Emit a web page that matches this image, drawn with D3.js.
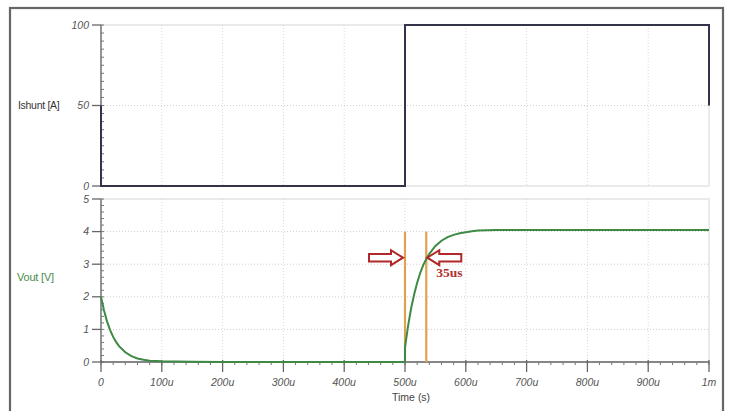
<!DOCTYPE html>
<html><head><meta charset="utf-8">
<script src="https://cdn.jsdelivr.net/npm/d3@7"></script>
<style>body{margin:0;background:#fff}svg{display:block}</style>
</head><body><svg id="c" width="731" height="411"></svg>
<script>
// ---- data ----
const xTicks = [0,100,200,300,400,500,600,700,800,900,1000];
const xTickLabels = ["0","100u","200u","300u","400u","500u","600u","700u","800u","900u","1m"];
const iTicks = [0,50,100];
const iTickLabels = ["0","50","100"];
const vTicks = [0,1,2,3,4,5];
const vTickLabels = ["0","1","2","3","4","5"];
// Ishunt [A] (time in us)
const iTime = [0,0,500,500,1000,1000];
const iVals = [50,0,0,100,100,50];
// Vout [V] (time in us)
const vTime = [0,5,10,15,20,25,30,40,50,60,70,80,90,100,150,200,300,400,500,500,505,510,515,520,525,530,535,540,550,560,570,580,590,600,610,620,650,700,800,900,1000];
const vVals = [2.00,1.58,1.24,0.98,0.77,0.61,0.48,0.30,0.18,0.11,0.07,0.04,0.03,0.02,0.01,0.0,0.0,0.0,0.0,0.45,1.10,1.64,2.07,2.43,2.73,2.97,3.16,3.32,3.56,3.72,3.83,3.90,3.95,3.98,4.01,4.03,4.05,4.05,4.05,4.05,4.05];
// annotation
const markerTimes = [500,535];
const markerTop = 4.0;
const arrowLevel = 3.2;
const annotText = "35us";

// ---- layout ----
const svg = d3.select("#c");
const x = d3.scaleLinear().domain([0,1000]).range([101,709]);
const yI = d3.scaleLinear().domain([0,100]).range([186,25]);
const yV = d3.scaleLinear().domain([0,5]).range([362,199]);

// outer frame
svg.append("rect").attr("x",10).attr("y",8).attr("width",713).attr("height",420)
  .attr("fill","none").attr("stroke","#666").attr("stroke-width",2.2);

function panel(y, ticks, labels, minorStep, gridVals){
  const g = svg.append("g");
  const [y0,y1] = y.range();
  g.append("rect").attr("x",x(0)).attr("y",y1).attr("width",x(1000)-x(0)).attr("height",y0-y1)
    .attr("fill","none").attr("stroke","#e4e4e4").attr("stroke-width",1.5);
  g.selectAll(".vg").data(xTicks.slice(1,-1)).join("line")
    .attr("x1",d=>x(d)).attr("x2",d=>x(d)).attr("y1",y1).attr("y2",y0)
    .attr("stroke","#d8d8d8").attr("stroke-dasharray","1,2").attr("stroke-width",1);
  g.selectAll(".hg").data(gridVals).join("line")
    .attr("x1",x(0)).attr("x2",x(1000)).attr("y1",d=>y(d)).attr("y2",d=>y(d))
    .attr("stroke","#d0d0d0").attr("stroke-dasharray","1,2").attr("stroke-width",1);
  g.append("line").attr("x1",x(0)).attr("x2",x(0)).attr("y1",y0).attr("y2",y1)
    .attr("stroke","#666").attr("stroke-width",1.3);
  const dom = y.domain();
  const minors = d3.range(dom[0], dom[1]+minorStep/2, minorStep);
  g.selectAll(".mt").data(minors).join("line")
    .attr("x1",x(0)).attr("x2",x(0)+3).attr("y1",d=>y(d)).attr("y2",d=>y(d))
    .attr("stroke","#777").attr("stroke-width",1);
  g.selectAll(".Mt").data(ticks).join("line")
    .attr("x1",x(0)-9).attr("x2",x(0)).attr("y1",d=>y(d)).attr("y2",d=>y(d))
    .attr("stroke","#666").attr("stroke-width",1.3);
  g.selectAll(".tl").data(ticks).join("text")
    .attr("x",x(0)-12).attr("y",d=>y(d)+3.5).attr("text-anchor","end")
    .attr("font-family","Liberation Sans, Arial, sans-serif").attr("font-style","italic")
    .attr("font-size",10.5).attr("fill","#555").text((d,i)=>labels[i]);
  return g;
}
panel(yI, iTicks, iTickLabels, 5, [50]);
panel(yV, vTicks, vTickLabels, 0.2, [1,2,3,4]);

// x axis (bottom panel)
const xa = svg.append("g");
xa.append("line").attr("x1",x(0)).attr("x2",x(1000)).attr("y1",yV(0)).attr("y2",yV(0))
  .attr("stroke","#666").attr("stroke-width",1.3);
xa.selectAll(".xm").data(d3.range(0,1001,20)).join("line")
  .attr("x1",d=>x(d)).attr("x2",d=>x(d)).attr("y1",yV(0)).attr("y2",d=>yV(0)+(d%100===50?4:3))
  .attr("stroke","#777").attr("stroke-width",1);
xa.selectAll(".xM").data(xTicks).join("line")
  .attr("x1",d=>x(d)).attr("x2",d=>x(d)).attr("y1",yV(0)-2).attr("y2",yV(0)+10)
  .attr("stroke","#666").attr("stroke-width",1.3);
xa.selectAll(".xl").data(xTicks).join("text")
  .attr("x",d=>x(d)).attr("y",yV(0)+24).attr("text-anchor","middle")
  .attr("font-family","Liberation Sans, Arial, sans-serif").attr("font-style","italic")
  .attr("font-size",10.5).attr("fill","#555").text((d,i)=>xTickLabels[i]);
svg.append("text").attr("x",x(510)).attr("y",401).attr("text-anchor","middle")
  .attr("font-family","Liberation Sans, Arial, sans-serif").attr("font-size",10.5)
  .attr("fill","#444").text("Time (s)");

// axis titles
svg.append("text").attr("x",18).attr("y",yI(50)+3).attr("font-family","Liberation Sans Narrow, Liberation Sans, sans-serif")
  .attr("font-size",10.5).attr("fill","#333").attr("letter-spacing",-0.3).text("Ishunt [A]");
svg.append("text").attr("x",17).attr("y",281).attr("font-family","Liberation Sans Narrow, Liberation Sans, sans-serif")
  .attr("font-size",11).attr("fill","#4a8a4a").attr("letter-spacing",-0.2).text("Vout [V]");

// series
const lineI = d3.line().x((d,i)=>x(iTime[i])).y((d,i)=>yI(iVals[i]));
svg.append("path").attr("d",lineI(iVals)).attr("fill","none").attr("stroke","#33334a").attr("stroke-width",2);

svg.selectAll(".mk").data(markerTimes).join("line")
  .attr("x1",d=>x(d)).attr("x2",d=>x(d)).attr("y1",yV(markerTop)).attr("y2",yV(0))
  .attr("stroke","#e0a050").attr("stroke-width",2.2);

const lineV = d3.line().x((d,i)=>x(vTime[i])).y((d,i)=>yV(vVals[i]));
svg.append("path").attr("d",lineV(vVals)).attr("fill","none").attr("stroke","#3d8a45").attr("stroke-width",2);

// arrows
function arrow(tipX, tipY, dir){
  const L=34, hl=12, bh=3.8, hh=7.5;
  const s=dir;
  const p = [
    [tipX, tipY],
    [tipX - s*hl, tipY - hh],
    [tipX - s*hl, tipY - bh],
    [tipX - s*L, tipY - bh],
    [tipX - s*L, tipY + bh],
    [tipX - s*hl, tipY + bh],
    [tipX - s*hl, tipY + hh]
  ];
  svg.append("path").attr("d","M"+p.map(q=>q.join(",")).join("L")+"Z")
    .attr("fill","#fff").attr("stroke","#b02828").attr("stroke-width",2).attr("stroke-linejoin","miter");
}
arrow(x(markerTimes[0])-2, yV(arrowLevel), 1);
arrow(x(markerTimes[1])+1, yV(arrowLevel), -1);
svg.append("text").attr("x",x(markerTimes[1])+10).attr("y",yV(arrowLevel)+19)
  .attr("font-family","Liberation Serif, serif").attr("font-weight","bold").attr("font-size",13.5)
  .attr("fill","#b03030").text(annotText);
</script></body></html>
